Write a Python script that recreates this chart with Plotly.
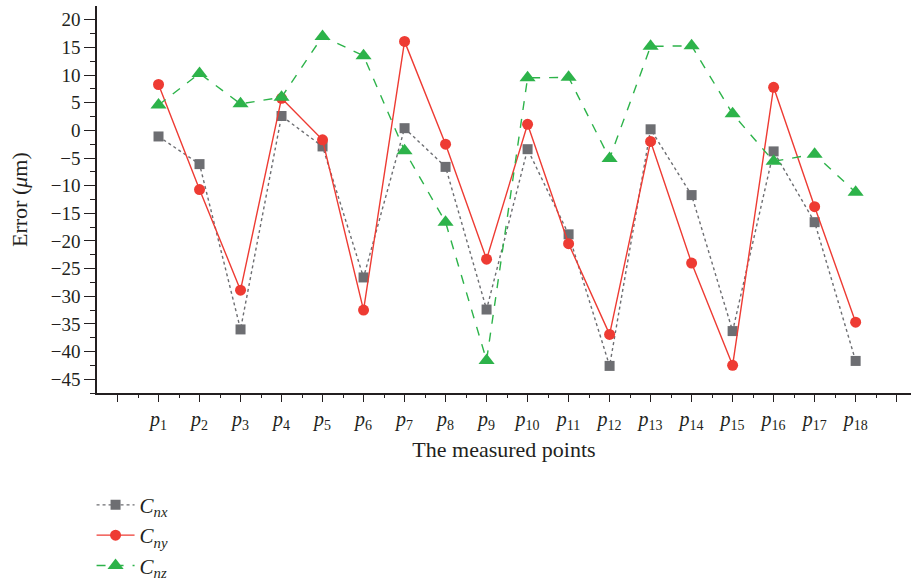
import plotly.graph_objects as go

points = [f"p{i}" for i in range(1, 19)]
tick_labels = [f"<i>p</i><sub>{i}</sub>" for i in range(1, 19)]

cnx = [-1.1, -6.1, -36.0, 2.6, -2.9, -26.6, 0.4, -6.6, -32.4,
       -3.4, -18.8, -42.6, 0.2, -11.7, -36.3, -3.8, -16.6, -41.7]
cny = [8.3, -10.7, -28.9, 5.8, -1.7, -32.5, 16.1, -2.5, -23.3,
       1.1, -20.5, -36.9, -2.0, -24.0, -42.5, 7.8, -13.8, -34.7]
cnz = [4.6, 10.3, 4.8, 6.0, 17.0, 13.5, -3.7, -16.6, -41.6,
       9.5, 9.6, -5.1, 15.2, 15.3, 3.0, -5.6, -4.3, -11.2]

x_pos = list(range(1, 19))

FONT = "Liberation Serif"
GRAY = "#6d6e72"
RED = "#ee3b33"
GREEN = "#2db34a"

fig = go.Figure()
fig.add_trace(go.Scatter(
    x=x_pos, y=cnx, mode="lines+markers", name="<i>C<sub>nx</sub></i>",
    line=dict(color=GRAY, width=1.4, dash="dot"),
    marker=dict(symbol="square", size=10, color=GRAY)))
fig.add_trace(go.Scatter(
    x=x_pos, y=cny, mode="lines+markers", name="<i>C<sub>ny</sub></i>",
    line=dict(color=RED, width=1.4),
    marker=dict(symbol="circle", size=11, color=RED)))
fig.add_trace(go.Scatter(
    x=x_pos, y=cnz, mode="lines+markers", name="<i>C<sub>nz</sub></i>",
    line=dict(color=GREEN, width=1.4, dash="dash"),
    marker=dict(symbol="triangle-up", size=14, color=GREEN)))

fig.update_layout(
    width=911, height=584,
    margin=dict(l=97, r=0, t=6, b=191, autoexpand=False),
    paper_bgcolor="white", plot_bgcolor="white",
    font=dict(family=FONT, size=19, color="#231f20"),
    showlegend=True,
    legend=dict(
        xref="container", yref="container",
        x=0.1005, y=0.170, xanchor="left", yanchor="top",
        font=dict(family=FONT, size=21, color="#231f20"),
        itemwidth=38, tracegroupgap=0,
        bgcolor="rgba(0,0,0,0)"),
    annotations=[dict(
        text="Error (<i>μ</i>m)", xref="paper", yref="paper",
        x=-0.0952, y=0.5, xanchor="center", yanchor="middle",
        textangle=-90, showarrow=False,
        font=dict(family=FONT, size=22, color="#231f20"))],
)

fig.update_xaxes(
    range=[-0.5, 19.35],
    tickmode="array",
    tickvals=list(range(0, 20)),
    ticktext=[""] + tick_labels + [""],
    ticks="outside", ticklen=7, tickwidth=1.3, tickcolor="#231f20",
    showline=True, linecolor="#231f20", linewidth=1.5,
    showgrid=False, zeroline=False,
    minor=dict(tickvals=[i + 0.5 for i in range(0, 19)], ticks="outside",
               ticklen=3.5, tickwidth=1.2, tickcolor="#231f20", showgrid=False),
    tickfont=dict(family=FONT, size=20),
    title=dict(text="The measured points", font=dict(family=FONT, size=22), standoff=10),
)

fig.update_yaxes(
    range=[-47.5, 22.5],
    tickmode="array",
    tickvals=list(range(-45, 21, 5)),
    ticktext=[f"{v}".replace("-", "\u2212") for v in range(-45, 21, 5)],
    ticks="outside", ticklen=11, tickwidth=1.3, tickcolor="#231f20",
    showline=True, linecolor="#231f20", linewidth=1.5,
    showgrid=False, zeroline=False,
    minor=dict(tickvals=[v + 2.5 for v in range(-50, 20, 5)], ticks="outside",
               ticklen=5, tickwidth=1.2, tickcolor="#231f20", showgrid=False),
    tickfont=dict(family=FONT, size=19),
)

fig.write_html("out.html", config={"displayModeBar": False},
               post_script="document.body.style.margin='0px';")
